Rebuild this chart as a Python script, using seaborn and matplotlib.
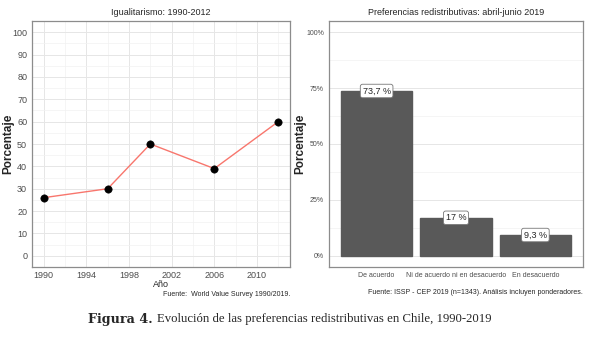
import numpy as np
import pandas as pd
import seaborn as sns
import matplotlib.pyplot as plt
from matplotlib.ticker import MultipleLocator, FixedLocator

# data
years = [1990, 1996, 2000, 2006, 2012]
igual_pct = [26, 30, 50, 39, 60]

categorias = ['De acuerdo', 'Ni de acuerdo ni en desacuerdo', 'En desacuerdo']
pref_pct = [73.7, 17.0, 9.3]
pref_labels = ['73,7 %', '17 %', '9,3 %']

sns.set_theme(style="whitegrid")
plt.rcParams['font.family'] = ['Liberation Sans', 'DejaVu Sans']

W, H = 606, 351
fig = plt.figure(figsize=(W / 100, H / 100), dpi=100)
fig.patch.set_facecolor('white')


def px_axes(x0, y0, x1, y1):
    return fig.add_axes([x0 / W, 1 - y1 / H, (x1 - x0) / W, (y1 - y0) / H])


def style_panel(ax):
    ax.set_facecolor('white')
    for s in ax.spines.values():
        s.set_color('#8c8c8c')
        s.set_linewidth(0.9)
    ax.grid(which='major', color='#e6e6e6', linewidth=0.7)
    ax.grid(which='minor', color='#f2f2f2', linewidth=0.5)
    ax.tick_params(which='major', length=2.5, color='#333333', pad=1)
    ax.tick_params(which='minor', length=0)


# left panel
df1 = pd.DataFrame({'anio': years, 'pct': igual_pct})
ax1 = px_axes(32, 21, 290, 267)
style_panel(ax1)
sns.lineplot(data=df1, x='anio', y='pct', color='#F8766D', linewidth=1.0, ax=ax1)
sns.scatterplot(data=df1, x='anio', y='pct', color='black', s=28, edgecolor='black', ax=ax1, zorder=3)
ax1.set_xlim(1988.9, 2013.1)
ax1.set_ylim(-5, 105)
ax1.xaxis.set_major_locator(FixedLocator([1990, 1994, 1998, 2002, 2006, 2010]))
ax1.xaxis.set_minor_locator(FixedLocator([1992, 1996, 2000, 2004, 2008, 2012]))
ax1.yaxis.set_major_locator(MultipleLocator(10))
ax1.yaxis.set_minor_locator(MultipleLocator(5))
ax1.tick_params(axis='both', labelsize=6.5, labelcolor='#4d4d4d')
ax1.tick_params(axis='x', pad=0.5)
ax1.set_xlabel('Año', fontsize=6.5)
ax1.xaxis.set_label_coords(0.5, -(280 - 267) / 246)
ax1.set_ylabel('Porcentaje', fontsize=8.5, fontweight='bold')
ax1.yaxis.set_label_coords((14 - 32) / 258, 0.5)
ax1.set_title('Igualitarismo: 1990-2012', fontsize=6.5, pad=4)
fig.text(290 / W, 1 - 294 / H, 'Fuente:  World Value Survey 1990/2019.', fontsize=5, ha='right', va='center')

# right panel
df2 = pd.DataFrame({'cat': categorias, 'pct': pref_pct})
ax2 = px_axes(329, 21, 583, 267)
style_panel(ax2)
sns.barplot(data=df2, x='cat', y='pct', color='#595959', saturation=1, width=0.9, ax=ax2, zorder=2)
for p in ax2.patches:
    p.set_edgecolor('#595959')
ax2.set_xlim(-0.6, 2.6)
ax2.set_ylim(-5, 105)
ax2.yaxis.set_major_locator(FixedLocator([0, 25, 50, 75, 100]))
ax2.yaxis.set_minor_locator(FixedLocator([12.5, 37.5, 62.5, 87.5]))
ax2.set_yticklabels(['0%', '25%', '50%', '75%', '100%'])
ax2.tick_params(axis='y', labelsize=5, labelcolor='#4d4d4d')
ax2.tick_params(axis='x', labelsize=5, labelcolor='#4d4d4d')
ax2.grid(axis='x', which='minor', visible=False)
for i, (v, lab) in enumerate(zip(pref_pct, pref_labels)):
    ax2.text(i, v, lab, ha='center', va='center', fontsize=6.5, zorder=4,
             bbox=dict(boxstyle='round,pad=0.25', fc='white', ec='#777777', lw=0.6))
ax2.set_xlabel('')
ax2.set_ylabel('Porcentaje', fontsize=8.5, fontweight='bold')
ax2.yaxis.set_label_coords((306 - 329) / 254, 0.5)
ax2.set_title('Preferencias redistributivas: abril-junio 2019', fontsize=6.5, pad=4)
fig.text(583 / W, 1 - 293 / H, 'Fuente: ISSP - CEP 2019 (n=1343). Análisis incluyen ponderadores.',
         fontsize=5, ha='right', va='center')

# figure caption
t = fig.text(88 / W, 1 - 319 / H, 'Figura 4.', fontsize=9.2, fontweight='bold',
             family=['DejaVu Serif'], ha='left', va='center')
fig.canvas.draw()
bb = t.get_window_extent()
fig.text((bb.x1 + 4) / W, 1 - 319 / H, 'Evolución de las preferencias redistributivas en Chile, 1990-2019',
         fontsize=9.2, family=['Liberation Serif'], ha='left', va='center')

fig.savefig('out.png', dpi=100)
